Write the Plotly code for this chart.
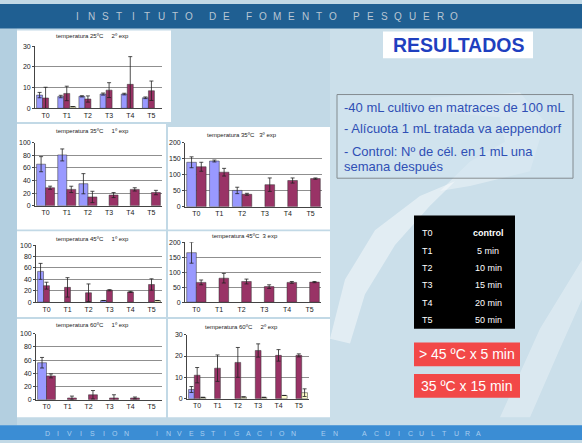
import plotly.graph_objects as go

W, H = 582, 443

categories = ["T0", "T1", "T2", "T3", "T4", "T5"]

# 25 ºC, 2º exp
t25e2_a = [6.4, 5.7, 5.8, 6.9, 6.9, 5.1]
t25e2_a_err = [1.3, 0.6, 0.3, 0.5, 0.4, 0.4]
t25e2_b = [5.0, 7.2, 4.5, 8.8, 11.6, 8.5]
t25e2_b_err = [5.2, 3.5, 1.5, 3.6, 13.4, 4.7]
t25e2_c = [0, 0.8, 0, 0, 0, 0]
t25e2_c_err = [0, 0, 0, 0, 0, 0]

# 35 ºC, 1º exp
t35e1_a = [66, 80.7, 35, 0, 0, 0]
t35e1_a_err = [12, 9.5, 16, 0, 0, 0]
t35e1_b = [28.6, 26, 14, 17, 26, 21]
t35e1_b_err = [2.5, 5, 9, 4, 2.6, 3.5]

# 35 ºC, 3º exp
t35e3_a = [139, 143, 51, 0, 0, 0]
t35e3_a_err = [17, 3, 10, 0, 0, 0]
t35e3_b = [125, 108, 39, 69, 82, 88]
t35e3_b_err = [14, 12, 3, 21, 8, 2]

# 45 ºC, 1º exp
t45e1_a = [54, 0, 0, 3, 0, 0]
t45e1_a_err = [14, 0, 0, 0, 0, 0]
t45e1_b = [29, 26, 16.5, 21, 18, 31]
t45e1_b_err = [6, 17, 15.5, 1, 1, 10]
t45e1_c = [0, 0, 0, 0, 0, 3]
t45e1_c_err = [0, 0, 0, 0, 0, 0]

# 45 ºC, 3 exp
t45e3_a = [165, 0, 0, 0, 0, 0]
t45e3_a_err = [35, 0, 0, 0, 0, 0]
t45e3_b = [66, 80, 69, 52, 66, 67]
t45e3_b_err = [8, 16, 8, 6, 3, 2]

# 60 ºC, 1º exp
t60e1_a = [56, 0, 0, 0, 0, 0]
t60e1_a_err = [8, 0, 0, 0, 0, 0]
t60e1_b = [36, 2.5, 7.4, 2.5, 2.5, 0]
t60e1_b_err = [3, 2.9, 6.4, 4.9, 1.5, 0]

# 60 ºC, 2º exp
t60e2_a = [4.3, 0, 0, 0, 0, 0]
t60e2_a_err = [1.4, 0, 0, 0, 0, 0]
t60e2_b = [11, 14.3, 17, 22.6, 20.3, 20.3]
t60e2_b_err = [3.6, 6.2, 7, 3.1, 2.7, 0.7]
t60e2_c = [0.6, 0, 0.8, 0.6, 1.5, 2.8]
t60e2_c_err = [0, 0, 0, 0, 0, 1.8]

panel_titles = [
    "temperatura 25ºC     2º exp",
    "temperatura 35ºC     1º exp",
    "temperatura 35ºC   3º exp",
    "temperatura 45ºC     1º exp",
    "temperatura 45ºC  3 exp",
    "temperatura 60ºC     1º exp",
    "temperatura 60ºC     2º exp",
]

table_left = ["T0", "T1", "T2", "T3", "T4", "T5"]
table_right = ["<b>control</b>", "5 min", "10 min", "15 min", "20 min", "50 min"]

info_lines = [
    "-40 mL cultivo en matraces de 100 mL",
    "- Alícuota 1 mL tratada va aeppendorf",
    "- Control: Nº de cél. en 1 mL una",
    "semana después",
]

header_words = ["INSTITUTO", "DE", "FOMENTO", "PESQUERO"]
footer_words = ["DIVISION", "INVESTIGACION", "EN", "ACUICULTURA"]

COL_A, COL_B, COL_C = "#9999ff", "#993366", "#ffffcc"
FONT = "Arial, Liberation Sans, sans-serif"
NARROW = "Arial Narrow, Liberation Sans Narrow, Liberation Sans, sans-serif"


def fx(p):
    return p / W


def fy(p):
    return 1 - p / H


# each panel: series, y range/step, white card box, plot area box, title position
panels = [
    dict(series=[(t25e2_a, t25e2_a_err, COL_A), (t25e2_b, t25e2_b_err, COL_B), (t25e2_c, t25e2_c_err, COL_C)],
         yr=30, dt=10, card=(17, 27, 171, 120), area=(35, 43, 162, 106), title=(93, 33)),
    dict(series=[(t35e1_a, t35e1_a_err, COL_A), (t35e1_b, t35e1_b_err, COL_B)],
         yr=100, dt=20, card=(17, 122, 166, 229), area=(35, 141, 162, 205), title=(92, 129)),
    dict(series=[(t35e3_a, t35e3_a_err, COL_A), (t35e3_b, t35e3_b_err, COL_B)],
         yr=200, dt=50, card=(168, 125, 330, 229), area=(185, 141, 322, 206), title=(242, 133)),
    dict(series=[(t45e1_a, t45e1_a_err, COL_A), (t45e1_b, t45e1_b_err, COL_B), (t45e1_c, t45e1_c_err, COL_C)],
         yr=100, dt=20, card=(17, 231, 166, 318), area=(36, 245, 162, 303), title=(92, 239)),
    dict(series=[(t45e3_a, t45e3_a_err, COL_A), (t45e3_b, t45e3_b_err, COL_B)],
         yr=200, dt=50, card=(168, 231, 330, 318), area=(185, 242, 321, 303), title=(245, 236)),
    dict(series=[(t60e1_a, t60e1_a_err, COL_A), (t60e1_b, t60e1_b_err, COL_B)],
         yr=100, dt=20, card=(17, 320, 166, 420), area=(36, 335, 162, 402), title=(92, 326)),
    dict(series=[(t60e2_a, t60e2_a_err, COL_A), (t60e2_b, t60e2_b_err, COL_B), (t60e2_c, t60e2_c_err, COL_C)],
         yr=30, dt=10, card=(168, 320, 330, 420), area=(187, 336, 309, 401), title=(241, 328)),
]

fig = go.Figure()
layout = {}
shapes = []
annotations = []


def rect(x0, y0, x1, y1, fill, line=None, lw=0, layer="below", opacity=1.0):
    shapes.append(dict(type="rect", xref="paper", yref="paper",
                       x0=fx(x0), x1=fx(x1), y0=fy(y1), y1=fy(y0),
                       fillcolor=fill, opacity=opacity, layer=layer,
                       line=dict(color=line or fill, width=lw)))


def path(points, fill, opacity):
    d = "M " + " L ".join(f"{fx(x):.4f},{fy(y):.4f}" for x, y in points) + " Z"
    shapes.append(dict(type="path", xref="paper", yref="paper", path=d,
                       fillcolor=fill, opacity=opacity, layer="below",
                       line=dict(width=0)))


def text(x, y, s, size, color, family=FONT, xanchor="center"):
    annotations.append(dict(x=fx(x), y=fy(y), xref="paper", yref="paper", text=s,
                            showarrow=False, xanchor=xanchor, yanchor="middle",
                            font=dict(size=size, color=color, family=family)))


def spaced(words, x, y, step, gap, size, color):
    for w in words:
        for ch in w:
            text(x, y, ch, size, color)
            x += step
        x += gap - step


# slide background: left tint, lighter right half and soft swooshes
rect(0, 25, 17, 428, "#a9c8dc", opacity=0.6)
rect(330, 25, 582, 428, "white", opacity=0.16)
path([(330, 340), (345, 280), (375, 230), (420, 195), (455, 180), (430, 205),
      (395, 245), (365, 295), (350, 345)], "white", 0.45)
path([(430, 95), (520, 90), (545, 120), (530, 170), (470, 185), (440, 190),
      (470, 160), (505, 140), (500, 115), (440, 110)], "white", 0.35)
path([(500, 420), (540, 330), (582, 260), (582, 300), (560, 350), (530, 420)], "white", 0.3)

# top and bottom bands
rect(0, 0, 582, 25, "#1f5f92")
rect(0, 428, 582, 443, "#3b8dd4")

for k, panel in enumerate(panels, start=1):
    cx0, cy0, cx1, cy1 = panel["card"]
    rect(cx0, cy0, cx1, cy1, "white")
    ax0, ay0, ax1, ay1 = panel["area"]
    xa = "x" if k == 1 else f"x{k}"
    ya = "y" if k == 1 else f"y{k}"
    layout["xaxis" if k == 1 else f"xaxis{k}"] = dict(
        domain=[fx(ax0), fx(ax1)], anchor=ya, type="category",
        categoryorder="array", categoryarray=categories, range=[-0.5, 5.5],
        showgrid=False, showline=True, linecolor="#444", linewidth=0.8,
        ticks="", tickfont=dict(size=7, color="#222", family=FONT), ticklen=0,
    )
    layout["yaxis" if k == 1 else f"yaxis{k}"] = dict(
        domain=[fy(ay1), fy(ay0)], anchor=xa, range=[0, panel["yr"]], dtick=panel["dt"],
        showgrid=True, gridcolor="#8f8f8f", gridwidth=0.6, zeroline=False,
        showline=True, linecolor="#444", linewidth=0.8, ticks="outside", ticklen=2,
        tickcolor="#444", tickfont=dict(size=7, color="#222", family=FONT),
    )
    for j, (vals, errs, col) in enumerate(panel["series"]):
        y = [v if v else None for v in vals]
        fig.add_trace(go.Bar(
            x=categories, y=y, xaxis=xa, yaxis=ya, offsetgroup=str(j),
            marker=dict(color=col, line=dict(color="#333", width=0.5)),
            error_y=dict(type="data", array=errs, symmetric=True, visible=True,
                         color="#222", thickness=0.8, width=2),
            showlegend=False,
        ))
    text(panel["title"][0], panel["title"][1], panel_titles[k - 1], 6, "#222", NARROW)

# header / footer lettering
spaced(header_words, 77, 13, 14, 23, 10, "#b9c6d3")
spaced(footer_words, 47, 436, 11.4, 30, 7, "#a9cdef")

# RESULTADOS title card
rect(383, 28, 533, 55, "white")
text(458, 42, "<b>RESULTADOS</b>", 19.5, "#1f3fbf")

# info box
rect(337, 92, 573, 177, "#d4e6f1", line="#555", lw=1, layer="above", opacity=0.6)
for s, yy in zip(info_lines, [105, 127, 150, 165]):
    text(342, yy, s, 13, "#2f4fb5", xanchor="left")

# black legend table
rect(414, 215, 515, 330, "black")
for i, (l, r) in enumerate(zip(table_left, table_right)):
    yy = 233 + i * 17.6
    text(420, yy, l, 9, "white", xanchor="left")
    text(488, yy, r, 9, "white")

# red boxes
rect(414, 344, 520, 368, "#f24848")
text(467, 356, "> 45 ºC x 5 min", 14, "white")
rect(414, 376, 520, 400, "#f24848")
text(467, 388, "35 ºC x 15 min", 14, "white")

fig.update_layout(
    width=W, height=H, margin=dict(l=0, r=0, t=0, b=0),
    paper_bgcolor="#c2d9e6", plot_bgcolor="#c4c4c4",
    barmode="group", bargap=0.15, bargroupgap=0,
    shapes=shapes, annotations=annotations, showlegend=False,
    **layout,
)

fig.write_html("out.html")
